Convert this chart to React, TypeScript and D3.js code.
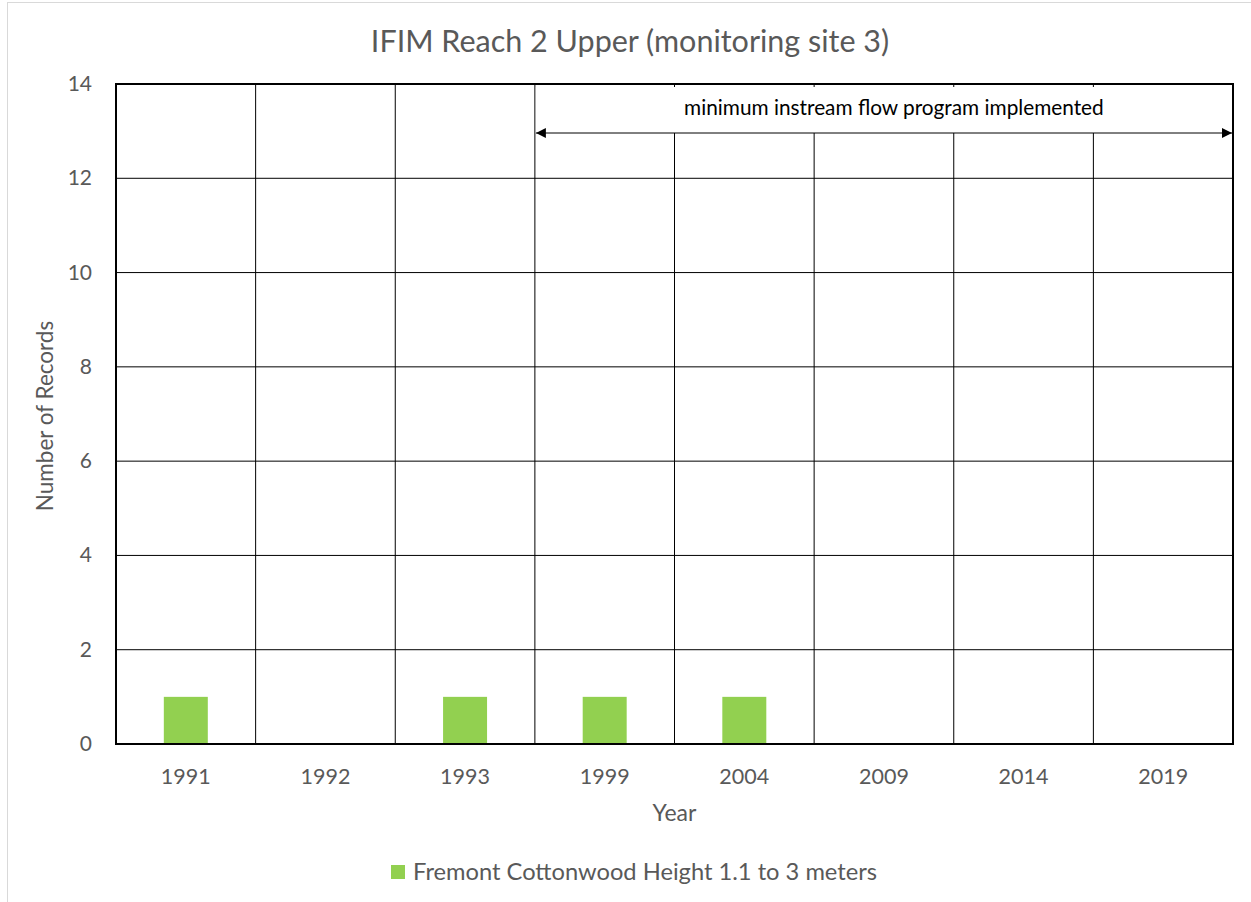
import React from "react";
import * as d3 from "d3";

const years = ["1991", "1992", "1993", "1999", "2004", "2009", "2014", "2019"];
const values = [1, 0, 1, 1, 1, 0, 0, 0];
const yTicks = [0, 2, 4, 6, 8, 10, 12, 14];
const title = "IFIM Reach 2 Upper (monitoring site 3)";
const seriesName = "Fremont Cottonwood Height 1.1 to 3 meters";
const annotation = "minimum instream flow program implemented";
const annotationStart = "1999";

const W = 1251;
const H = 902;
const M = { left: 116, right: 1233, top: 84, bottom: 744 };
const FONT = "Lato, 'Open Sans', sans-serif";
const TXT = "#595959";

export default function App() {
  const x = d3.scaleBand<string>().domain(years).range([M.left, M.right]).paddingInner(0).paddingOuter(0);
  const y = d3.scaleLinear().domain([0, 14]).range([M.bottom, M.top]);
  const bw = x.bandwidth() * 0.315;
  const arrowY = 133;
  const aX0 = x(annotationStart)!;
  const aX1 = M.right;

  return (
    <svg width={W} height={H} style={{ position: "absolute", left: 0, top: 0, background: "#fff" }} fontFamily={FONT}>
      <defs>
        <marker id="ah" viewBox="0 0 10 10" refX="10" refY="5" markerWidth="10" markerHeight="10" markerUnits="userSpaceOnUse" orient="auto-start-reverse">
          <path d="M0,0 L10,5 L0,10 Z" fill="#000" />
        </marker>
      </defs>
      <rect x={7.5} y={2.5} width={W + 10} height={H + 10} fill="#fff" stroke="#d9d9d9" strokeWidth={1} />
      <text x={630} y={52} textAnchor="middle" fontSize={30.5} fill={TXT}>{title}</text>
      {yTicks.map((t) => (
        <line key={"h" + t} x1={M.left} x2={M.right} y1={y(t)} y2={y(t)} stroke="#000" strokeWidth={1} />
      ))}
      {years.slice(1).map((yr) => (
        <line key={"v" + yr} x1={x(yr)!} x2={x(yr)!} y1={M.top} y2={M.bottom} stroke="#000" strokeWidth={1} />
      ))}
      <rect x={aX0 + 1} y={M.top + 3} width={aX1 - aX0 - 2} height={arrowY - M.top - 3} fill="#fff" />
      <text x={(aX0 + aX1) / 2 + 10} y={115} textAnchor="middle" fontSize={20.8} fill="#000">{annotation}</text>
      <line x1={aX0 + 1} x2={aX1 - 1} y1={arrowY} y2={arrowY} stroke="#000" strokeWidth={1} markerStart="url(#ah)" markerEnd="url(#ah)" />
      {years.map((yr, i) =>
        values[i] > 0 ? (
          <rect key={"b" + yr} x={x(yr)! + x.bandwidth() / 2 - bw / 2} y={y(values[i])} width={bw} height={y(0) - y(values[i])} fill="#92D050" />
        ) : null
      )}
      <rect x={M.left} y={M.top} width={M.right - M.left} height={M.bottom - M.top} fill="none" stroke="#000" strokeWidth={2} />
      {yTicks.map((t) => (
        <text key={"yt" + t} x={92} y={y(t) + 7} textAnchor="end" fontSize={21} fill={TXT}>{t}</text>
      ))}
      {years.map((yr) => (
        <text key={"xt" + yr} x={x(yr)! + x.bandwidth() / 2} y={784} textAnchor="middle" fontSize={21.5} fill={TXT}>{yr}</text>
      ))}
      <text x={(M.left + M.right) / 2} y={821} textAnchor="middle" fontSize={23} fill={TXT}>Year</text>
      <text transform={`translate(53,416) rotate(-90)`} textAnchor="middle" fontSize={22.5} fill={TXT}>Number of Records</text>
      <rect x={391} y={865} width={14} height={14} fill="#92D050" />
      <text x={413} y={880} fontSize={23.7} fill={TXT}>{seriesName}</text>
    </svg>
  );
}
